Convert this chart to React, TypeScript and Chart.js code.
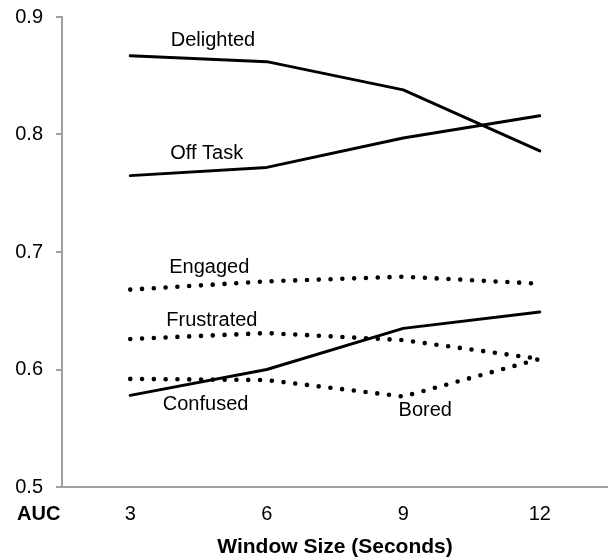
import React, { useEffect, useRef } from "react";
import { Chart, registerables } from "chart.js";

Chart.register(...registerables);

const windowSizes = ["3", "6", "9", "12"];
const delighted = [0.867, 0.862, 0.838, 0.786];
const offTask = [0.765, 0.772, 0.797, 0.816];
const engaged = [0.668, 0.675, 0.679, 0.673];
const frustrated = [0.626, 0.631, 0.625, 0.609];
const bored = [0.592, 0.591, 0.577, 0.609];
const confused = [0.578, 0.6, 0.635, 0.649];

const seriesNames = ["Delighted", "Off Task", "Engaged", "Frustrated", "Bored", "Confused"];
// label anchor positions in data space: [category index, AUC value]
const labelIndex = [0.606, 0.56, 0.579, 0.598, 2.161, 0.552];
const labelValue = [0.88, 0.784, 0.687, 0.642, 0.565, 0.57];

const yTicksMin = 0.5;
const yTicksMax = 0.9;
const yStep = 0.1;

const FONT = "'Liberation Sans', Arial, Helvetica, sans-serif";
const AXIS_GRAY = "#a0a0a0";

const labelPlugin = {
  id: "seriesLabels",
  afterDatasetsDraw(chart: any) {
    const { ctx, scales } = chart;
    const xs = scales.x;
    const ys = scales.y;
    ctx.save();
    ctx.fillStyle = "#000";
    ctx.font = `20px ${FONT}`;
    ctx.textAlign = "center";
    ctx.textBaseline = "middle";
    seriesNames.forEach((name, i) => {
      const px = xs.getPixelForValue(labelIndex[i]);
      const py = ys.getPixelForValue(labelValue[i]);
      ctx.fillText(name, px, py);
    });
    ctx.font = `bold 20px ${FONT}`;
    ctx.textAlign = "left";
    ctx.fillText("AUC", 17, xs.top + 27);
    ctx.restore();
  },
};

export default function App() {
  const ref = useRef<HTMLCanvasElement | null>(null);

  useEffect(() => {
    if (!ref.current) return;
    const solid = {
      borderColor: "#000",
      borderWidth: 3,
      pointRadius: 0,
      fill: false,
      tension: 0,
      borderCapStyle: "round" as const,
      borderJoinStyle: "round" as const,
    };
    const dotted = {
      ...solid,
      borderWidth: 4.6,
      borderDash: [0, 11.8],
    };
    const chart = new Chart(ref.current, {
      type: "line",
      data: {
        labels: windowSizes,
        datasets: [
          { label: "Delighted", data: delighted, ...solid },
          { label: "Off Task", data: offTask, ...solid },
          { label: "Engaged", data: engaged, ...dotted },
          { label: "Frustrated", data: frustrated, ...dotted },
          { label: "Bored", data: bored, ...dotted },
          { label: "Confused", data: confused, ...solid },
        ],
      },
      options: {
        animation: false,
        responsive: false,
        devicePixelRatio: 1,
        layout: { padding: { top: 17, right: 0, bottom: 0, left: 0 } },
        plugins: {
          legend: { display: false },
          tooltip: { enabled: false },
        },
        scales: {
          x: {
            type: "category",
            offset: true,
            grid: { display: false, drawTicks: false },
            border: { display: true, color: AXIS_GRAY, width: 2 },
            ticks: {
              color: "#000",
              font: { family: FONT, size: 20 },
              padding: 15,
              maxRotation: 0,
            },
            title: {
              display: true,
              text: "Window Size (Seconds)",
              color: "#000",
              font: { family: FONT, size: 21, weight: "bold" },
              padding: { top: 4, bottom: 0 },
            },
            afterFit(scale: any) {
              scale.height = 73;
              scale.paddingLeft = 0;
              scale.paddingRight = 0;
            },
          },
          y: {
            min: yTicksMin,
            max: yTicksMax,
            grid: {
              display: true,
              drawOnChartArea: false,
              drawTicks: true,
              tickLength: 6,
              color: AXIS_GRAY,
              lineWidth: 2,
            },
            border: { display: true, color: AXIS_GRAY, width: 2 },
            ticks: {
              stepSize: yStep,
              color: "#000",
              font: { family: FONT, size: 20 },
              padding: 13,
              callback: (v: any) => Number(v).toFixed(1),
            },
            afterFit(scale: any) {
              scale.width = 62;
              scale.paddingTop = 0;
              scale.paddingBottom = 0;
            },
          },
        },
      },
      plugins: [labelPlugin],
    });
    return () => chart.destroy();
  }, []);

  return (
    <div style={{ position: "absolute", left: 0, top: 0, width: 608, height: 560, background: "#fff" }}>
      <canvas ref={ref} width={608} height={560} style={{ display: "block" }} />
    </div>
  );
}
